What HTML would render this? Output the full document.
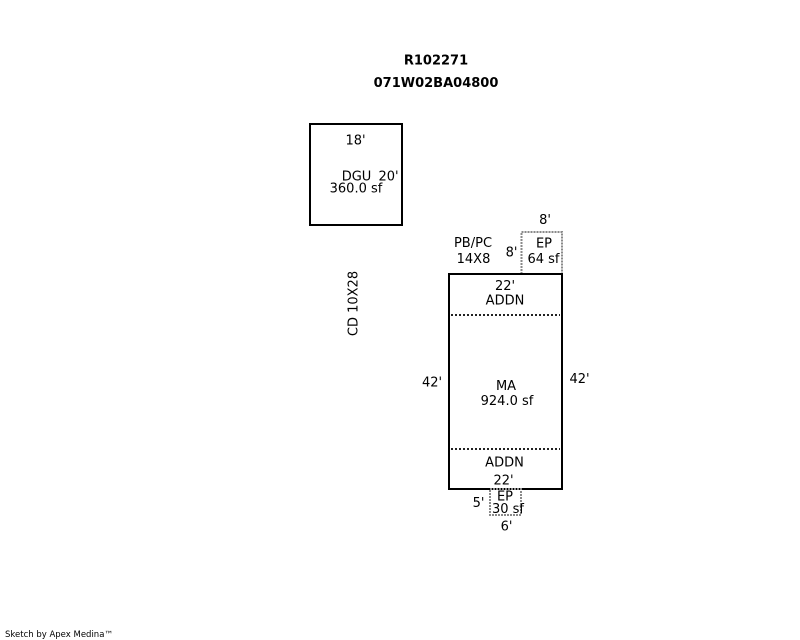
<!DOCTYPE html>
<html>
<head>
<meta charset="utf-8">
<style>
  html, body { margin: 0; padding: 0; background: #fff; }
  svg { display: block; }
  text { font-family: "DejaVu Sans", "Liberation Sans", sans-serif; font-size: 13px; fill: #000; }
  .b { font-weight: bold; }
</style>
</head>
<body>
<svg width="800" height="640" viewBox="0 0 800 640" xmlns="http://www.w3.org/2000/svg">
  <rect x="0" y="0" width="800" height="640" fill="#fff"/>

  <!-- Titles -->
  <text class="b" x="436" y="64.5" text-anchor="middle">R102271</text>
  <text class="b" x="436" y="87" text-anchor="middle">071W02BA04800</text>

  <!-- DGU box -->
  <rect x="310" y="124" width="92" height="101" fill="none" stroke="#000" stroke-width="2"/>
  <text x="355.5" y="144.5" text-anchor="middle">18'</text>
  <text x="356.5" y="180.5" text-anchor="middle">DGU</text>
  <text x="388.5" y="180.5" text-anchor="middle">20'</text>
  <text x="356" y="192.5" text-anchor="middle">360.0 sf</text>

  <!-- CD 10X28 rotated -->
  <text x="0" y="0" text-anchor="middle" transform="translate(357.5,303.5) rotate(-90)">CD 10X28</text>

  <!-- PB/PC -->
  <text x="473" y="247" text-anchor="middle">PB/PC</text>
  <text x="473.5" y="263" text-anchor="middle">14X8</text>

  <!-- Top EP -->
  <rect x="521.5" y="232" width="40.5" height="42" fill="none" stroke="#8a8a8a" stroke-width="2" stroke-dasharray="2 1"/>
  <text x="545" y="224" text-anchor="middle">8'</text>
  <text x="511.5" y="256.5" text-anchor="middle">8'</text>
  <text x="544" y="247.5" text-anchor="middle">EP</text>
  <text x="543.5" y="263" text-anchor="middle">64 sf</text>

  <!-- Main box -->
  <rect x="449" y="274" width="113" height="215" fill="none" stroke="#000" stroke-width="2"/>
  <line x1="451" y1="315" x2="560" y2="315" stroke="#222" stroke-width="2" stroke-dasharray="2 2"/>
  <line x1="451" y1="449" x2="560" y2="449" stroke="#222" stroke-width="2" stroke-dasharray="2 2"/>

  <text x="505" y="290" text-anchor="middle">22'</text>
  <text x="505" y="304.5" text-anchor="middle">ADDN</text>

  <text x="432" y="386.5" text-anchor="middle">42'</text>
  <text x="506" y="390" text-anchor="middle">MA</text>
  <text x="507" y="405" text-anchor="middle">924.0 sf</text>
  <text x="579.5" y="383" text-anchor="middle">42'</text>

  <text x="504.5" y="466.5" text-anchor="middle">ADDN</text>
  <text x="503.5" y="484.5" text-anchor="middle">22'</text>

  <!-- Bottom EP -->
  <rect x="490" y="489" width="31" height="26" fill="none" stroke="#8a8a8a" stroke-width="2" stroke-dasharray="2 1"/>
  <text x="478.5" y="507" text-anchor="middle">5'</text>
  <text x="505" y="500.5" text-anchor="middle">EP</text>
  <text x="508" y="513" text-anchor="middle">30 sf</text>
  <text x="506.5" y="530.5" text-anchor="middle">6'</text>

  <!-- Footer -->
  <text x="5" y="637" style="font-size:8.5px">Sketch by Apex Medina™</text>
</svg>
</body>
</html>
